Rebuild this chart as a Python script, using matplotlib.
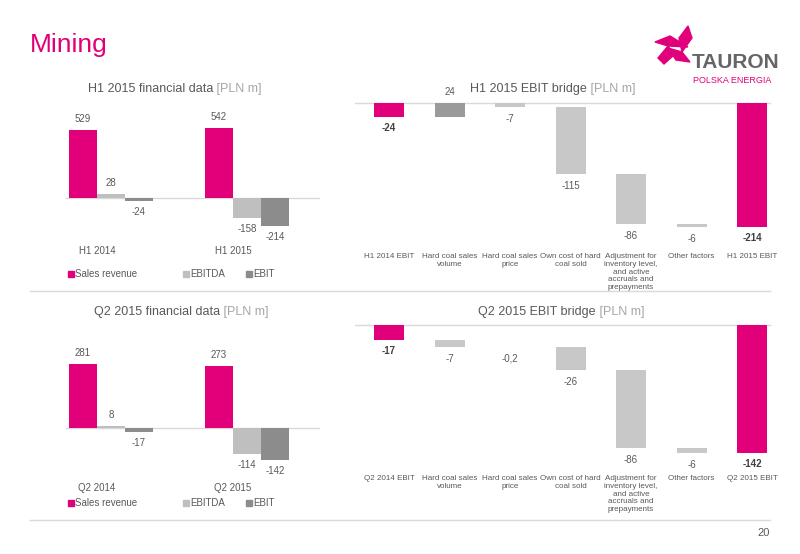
import matplotlib
matplotlib.use("Agg")
import matplotlib.pyplot as plt
from matplotlib.patches import Rectangle, Polygon
from matplotlib.lines import Line2D
import matplotlib.transforms as mtrans

W, H = 800, 554
PINK = "#E2007A"; LG = "#BFBFBF"; DG = "#8C8C8C"; TXT = "#595959"
BR_DOWN = "#C8C8C8"; BR_UP = "#9A9A9A"

h1_cats = ["H1 2014", "H1 2015"]
h1_rev = [529, 542]; h1_ebitda = [28, -158]; h1_ebit = [-24, -214]
q2_cats = ["Q2 2014", "Q2 2015"]
q2_rev = [281, 273]; q2_ebitda = [8, -114]; q2_ebit = [-17, -142]
series_names = ["Sales revenue", "EBITDA", "EBIT"]

h1_bridge_labels = ["H1 2014 EBIT", "Hard coal sales\nvolume", "Hard coal sales\nprice",
                    "Own cost of hard\ncoal sold", "Adjustment for\ninventory level,\nand active\naccruals and\nprepayments",
                    "Other factors", "H1 2015 EBIT"]
h1_bridge = [-24, 24, -7, -115, -86, -6, -214]
h1_bridge_txt = ["-24", "24", "-7", "-115", "-86", "-6", "-214"]
q2_bridge_labels = ["Q2 2014 EBIT", "Hard coal sales\nvolume", "Hard coal sales\nprice",
                    "Own cost of hard\ncoal sold", "Adjustment for\ninventory level,\nand active\naccruals and\nprepayments",
                    "Other factors", "Q2 2015 EBIT"]
q2_bridge = [-17, -7, -0.2, -26, -86, -6, -142]
q2_bridge_txt = ["-17", "-7", "-0,2", "-26", "-86", "-6", "-142"]

fig = plt.figure(figsize=(8, 5.54), dpi=100)
plt.rcParams['font.family'] = ['Liberation Sans', 'DejaVu Sans']

def pax(x0, y0, x1, y1):
    ax = fig.add_axes([x0 / W, 1 - y1 / H, (x1 - x0) / W, (y1 - y0) / H])
    ax.axis("off")
    return ax

def ftext(x, y, s, **kw):
    fig.text(x / W, 1 - y / H, s, **kw)

def fline(x0, x1, y, color="#D9D9D9", lw=1):
    fig.add_artist(Line2D([x0 / W, x1 / W], [1 - y / H, 1 - y / H], color=color, lw=lw))

def title(x, y, main):
    ftext(x, y, main, color=TXT, fontsize=9, ha="right", va="center")
    ftext(x, y, " [PLN m]", color="#A6A6A6", fontsize=9, ha="left", va="center")

# Title & logo
ftext(30, 45, "Mining", color=PINK, fontsize=19, va="center")
ftext(692, 62, "TAURON", color="#666666", fontsize=15, fontweight="bold", va="center")
ftext(693, 80, "POLSKA ENERGIA", color=PINK, fontsize=6.5, va="center")
for pts in [[(655, 42), (670, 36), (688, 47), (668, 46)],
            [(688, 26), (692, 38), (682, 52), (679, 38)],
            [(690, 62), (676, 60), (668, 48), (682, 52)],
            [(658, 58), (668, 46), (674, 55), (664, 64)]]:
    fig.add_artist(Polygon([(x / W, 1 - y / H) for x, y in pts], closed=True, color=PINK))

fline(30, 770, 291)
fline(30, 770, 520)
ftext(770, 533, "20", color=TXT, fontsize=8, ha="right", va="center")

def group_panel(y0, y1, base, scale, cats, rev, ebitda, ebit, ttl, tx, ty, caty, legy):
    ax = pax(40, y0, 320, y1)
    ax.set_xlim(-(111 - 40) / 136, (320 - 111) / 136)
    ax.set_ylim(-(y1 - base) / scale, (base - y0) / scale)
    w = 28 / 136
    for vals, col, off in [(rev, PINK, -w), (ebitda, LG, 0), (ebit, DG, w)]:
        for i, v in enumerate(vals):
            ax.bar(i + off, v, w, color=col)
            pad = 6 / scale
            ax.text(i + off, v + (pad if v >= 0 else -pad), str(v), ha="center",
                    va="bottom" if v >= 0 else "top", fontsize=7, color=TXT)
    ax.plot([-0.33, 1.55], [0, 0], color="#D9D9D9", lw=1, zorder=0)
    for i, c in enumerate(cats):
        ftext(97 + i * 136, caty, c, color=TXT, fontsize=7, ha="center", va="center")
    title(tx, ty, ttl)
    for name, col, lx in zip(series_names, [PINK, LG, DG], [68, 183, 246]):
        fig.add_artist(Rectangle((lx / W, 1 - (legy + 3) / H), 6 / W, 6 / H, color=col))
        ftext(lx + 7, legy, name, color=TXT, fontsize=7, va="center")
    return ax

def bridge_panel(y0, y1, base, scale, labels, vals, txts, ttl, tx, ty, laby):
    ax = pax(355, y0, 785, y1)
    ax.set_xlim(-(389 - 355) / 60.5, (785 - 389) / 60.5)
    ax.set_ylim(-(y1 - base) / scale, (base - y0) / scale)
    w = 30 / 60.5
    cum = 0
    n = len(vals)
    for i, v in enumerate(vals):
        if i == 0 or i == n - 1:
            cum = v
            ax.bar(i, v, w, color=PINK)
            ax.text(i, v - 6 / scale, txts[i], ha="center", va="top", fontsize=7, color="#404040", fontweight="bold")
        else:
            start = cum; cum = cum + v
            col = BR_UP if v > 0 else BR_DOWN
            ax.bar(i, v, w, bottom=start, color=col)
            if v > 0:
                ax.text(i, cum + 6 / scale, txts[i], ha="center", va="bottom", fontsize=7, color=TXT)
            else:
                ax.text(i, cum - 7 / scale, txts[i], ha="center", va="top", fontsize=7, color=TXT)
    ax.plot([-0.56, 6.3], [0, 0], color="#D9D9D9", lw=1, zorder=0)
    tr = mtrans.blended_transform_factory(ax.transData, fig.transFigure)
    for i, l in enumerate(labels):
        ax.text(i, 1 - laby / H, l, transform=tr, ha="center", va="top", fontsize=5.8,
                color=TXT, linespacing=1.15)
    title(tx, ty, ttl)

group_panel(110, 240, 198, 68 / 529, h1_cats, h1_rev, h1_ebitda, h1_ebit,
            "H1 2015 financial data", 213, 89, 251, 274)
group_panel(340, 470, 428, 64 / 281, q2_cats, q2_rev, q2_ebitda, q2_ebit,
            "Q2 2015 financial data", 220, 312, 488, 503)
bridge_panel(95, 240, 103, 124 / 214, h1_bridge_labels, h1_bridge, h1_bridge_txt,
             "H1 2015 EBIT bridge", 587, 89, 253)
bridge_panel(318, 470, 325, 128 / 142, q2_bridge_labels, q2_bridge, q2_bridge_txt,
             "Q2 2015 EBIT bridge", 596, 312, 475)

fig.savefig("out.png", dpi=100)
